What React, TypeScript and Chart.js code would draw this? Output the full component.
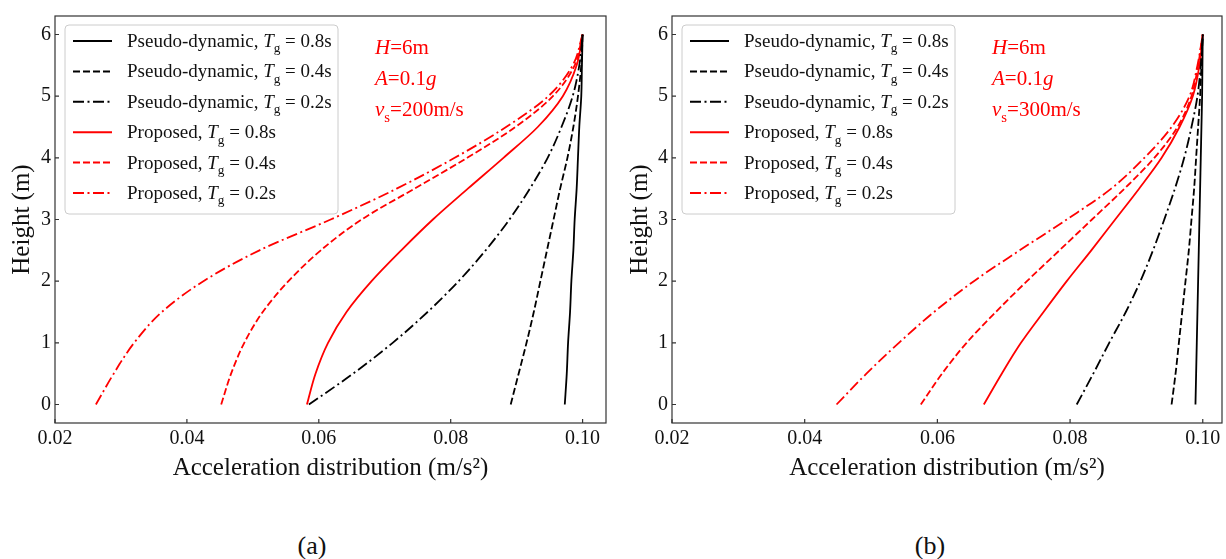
import React, { useEffect, useRef } from "react";
import { Chart, registerables } from "chart.js";

Chart.register(...registerables);

// ---------- data ----------
const heights = [0, 0.5, 1, 1.5, 2, 2.5, 3, 3.5, 4, 4.5, 5, 5.5, 6];
const xTicks = [0.02, 0.04, 0.06, 0.08, 0.1];
const yTicks = [0, 1, 2, 3, 4, 5, 6];

// panel (a): vs = 200 m/s
const aPseudo08 = [0.0973, 0.0976, 0.0978, 0.0981, 0.0983, 0.0986, 0.0988, 0.0991, 0.0993, 0.0995, 0.0998, 0.0999, 0.1];
const aPseudo04 = [0.0891, 0.0903, 0.0915, 0.0926, 0.0936, 0.0946, 0.0956, 0.0966, 0.0977, 0.0986, 0.0993, 0.0998, 0.1];
const aPseudo02 = [0.0585, 0.0652, 0.0712, 0.0765, 0.0812, 0.0853, 0.0889, 0.092, 0.0947, 0.0968, 0.0985, 0.0995, 0.1];
const aProp08 = [0.0582, 0.0595, 0.0614, 0.0642, 0.068, 0.0725, 0.0773, 0.0826, 0.088, 0.0932, 0.097, 0.0991, 0.1];
const aProp04 = [0.0452, 0.0467, 0.0487, 0.0515, 0.0554, 0.0603, 0.0665, 0.0745, 0.0825, 0.0898, 0.0955, 0.0988, 0.1];
const aProp02 = [0.0262, 0.0289, 0.032, 0.0362, 0.0425, 0.051, 0.0618, 0.0718, 0.0806, 0.0884, 0.0948, 0.0985, 0.1];

// panel (b): vs = 300 m/s
const bPseudo08 = [0.0989, 0.099, 0.0991, 0.0992, 0.0993, 0.0994, 0.0995, 0.0996, 0.0997, 0.0998, 0.0999, 0.09995, 0.1];
const bPseudo04 = [0.0953, 0.0959, 0.0964, 0.0969, 0.0974, 0.0979, 0.0983, 0.0987, 0.099, 0.0993, 0.0996, 0.0998, 0.1];
const bPseudo02 = [0.081, 0.0835, 0.0859, 0.0884, 0.0906, 0.0925, 0.0942, 0.0958, 0.0972, 0.0983, 0.0992, 0.0997, 0.1];
const bProp08 = [0.067, 0.0697, 0.0726, 0.076, 0.0795, 0.0832, 0.0868, 0.0904, 0.0938, 0.0965, 0.0985, 0.0995, 0.1];
const bProp04 = [0.0575, 0.0607, 0.0644, 0.0688, 0.0735, 0.0784, 0.0833, 0.0882, 0.0927, 0.0962, 0.0983, 0.0993, 0.1];
const bProp02 = [0.0448, 0.0493, 0.0542, 0.0595, 0.0655, 0.0724, 0.0795, 0.0862, 0.0912, 0.0953, 0.098, 0.0992, 0.1];

const methodNames = ["Pseudo-dynamic", "Pseudo-dynamic", "Pseudo-dynamic", "Proposed", "Proposed", "Proposed"];
const tgValues = ["0.8s", "0.4s", "0.2s", "0.8s", "0.4s", "0.2s"];
const seriesColors = ["#000000", "#000000", "#000000", "#ff0000", "#ff0000", "#ff0000"];
const seriesDashes: number[][] = [[], [7, 3], [11, 3.5, 2, 3.5], [], [7, 3], [11, 3.5, 2, 3.5]];

const xTitle = "Acceleration distribution (m/s\u00B2)";
const yTitle = "Height (m)";
const panelLetters = ["(a)", "(b)"];
const shearVelocities = ["200m/s", "300m/s"];

const FONT = '"Liberation Serif", "Times New Roman", serif';
const FRAME = "#333333";

type Run = { t: string; i?: boolean; sub?: boolean };

function drawRuns(ctx: CanvasRenderingContext2D, x: number, y: number, runs: Run[], size: number, color: string) {
  ctx.fillStyle = color;
  ctx.textBaseline = "alphabetic";
  ctx.textAlign = "left";
  let cx = x;
  for (const r of runs) {
    const s = r.sub ? size * 0.7 : size;
    ctx.font = `${r.i ? "italic " : ""}${s}px ${FONT}`;
    ctx.fillText(r.t, cx, y + (r.sub ? size * 0.28 : 0));
    cx += ctx.measureText(r.t).width;
  }
}

type PanelProps = {
  left: number;
  width: number;
  height: number;
  yAxisWidth: number;
  padRight: number;
  yTitlePad: number;
  xMax: number;
  series: number[][];
  vs: string;
};

function Panel(p: PanelProps) {
  const ref = useRef<HTMLCanvasElement | null>(null);
  useEffect(() => {
    const canvas = ref.current;
    if (!canvas) return;
    const datasets = p.series.map((vals, k) => ({
      label: `${methodNames[k]}, Tg = ${tgValues[k]}`,
      data: vals.map((v, j) => ({ x: v, y: heights[j] })),
      borderColor: seriesColors[k],
      borderWidth: 1.8,
      borderDash: seriesDashes[k],
      pointRadius: 0,
      fill: false,
      cubicInterpolationMode: "monotone" as const,
    }));

    const decor = {
      id: "decor",
      afterDatasetsDraw(chart: any) {
        const { ctx, chartArea: ca, scales } = chart;
        const xs = scales.x;
        const ys = scales.y;
        ctx.save();
        // inward ticks + frame
        ctx.strokeStyle = FRAME;
        ctx.lineWidth = 1.2;
        ctx.setLineDash([]);
        ctx.beginPath();
        xs.ticks.forEach((t: any) => {
          const px = xs.getPixelForValue(t.value);
          ctx.moveTo(px, ca.bottom);
          ctx.lineTo(px, ca.bottom - 4);
        });
        ys.ticks.forEach((t: any) => {
          const py = ys.getPixelForValue(t.value);
          ctx.moveTo(ca.left, py);
          ctx.lineTo(ca.left + 4, py);
        });
        ctx.stroke();
        ctx.strokeRect(ca.left, ca.top, ca.width, ca.height);

        // legend
        const bx = ca.left + 10;
        const by = ca.top + 9;
        const bw = 273;
        const bh = 189;
        ctx.beginPath();
        (ctx as any).roundRect(bx, by, bw, bh, 4);
        ctx.fillStyle = "rgba(255,255,255,0.85)";
        ctx.fill();
        ctx.strokeStyle = "#cccccc";
        ctx.lineWidth = 1;
        ctx.stroke();
        for (let k = 0; k < methodNames.length; k++) {
          const ry = by + 16 + k * 30.4;
          ctx.beginPath();
          ctx.strokeStyle = seriesColors[k];
          ctx.lineWidth = 2;
          ctx.setLineDash(seriesDashes[k]);
          ctx.moveTo(bx + 8, ry);
          ctx.lineTo(bx + 47, ry);
          ctx.stroke();
          ctx.setLineDash([]);
          drawRuns(
            ctx,
            bx + 62,
            ry + 6,
            [
              { t: `${methodNames[k]}, ` },
              { t: "T", i: true },
              { t: "g", sub: true },
              { t: ` = ${tgValues[k]}` },
            ],
            19,
            "#111111"
          );
        }

        // parameter annotations
        const ax = ca.left + 320;
        const red = "#ff0000";
        drawRuns(ctx, ax, ca.top + 38, [{ t: "H", i: true }, { t: "=6m" }], 21, red);
        drawRuns(ctx, ax, ca.top + 69, [{ t: "A", i: true }, { t: "=0.1" }, { t: "g", i: true }], 21, red);
        drawRuns(ctx, ax, ca.top + 100, [{ t: "v", i: true }, { t: "s", sub: true }, { t: `=${p.vs}` }], 21, red);
        ctx.restore();
      },
    };

    const chart = new Chart(canvas, {
      type: "line",
      data: { datasets },
      plugins: [decor],
      options: {
        responsive: false,
        animation: false,
        indexAxis: "y",
        layout: { padding: { left: 0, top: 10, right: p.padRight, bottom: 0 } },
        plugins: { legend: { display: false }, tooltip: { enabled: false } },
        scales: {
          x: {
            type: "linear",
            min: 0.02,
            max: p.xMax,
            afterBuildTicks: (axis: any) => {
              axis.ticks = xTicks.map((v) => ({ value: v }));
            },
            afterFit: (s: any) => {
              s.height = p.height - 423;
            },
            grid: { display: false, drawTicks: false },
            border: { display: false },
            ticks: {
              padding: 4,
              color: "#111111",
              font: { family: FONT, size: 20 },
              callback: (v: any) => Number(v).toFixed(2),
            },
            title: {
              display: true,
              text: xTitle,
              color: "#111111",
              font: { family: FONT, size: 25 },
              padding: { top: 0, bottom: 17 },
            },
          },
          y: {
            type: "linear",
            min: -0.3,
            max: 6.3,
            afterBuildTicks: (axis: any) => {
              axis.ticks = yTicks.map((v) => ({ value: v }));
            },
            afterFit: (s: any) => {
              s.width = p.yAxisWidth;
            },
            grid: { display: false, drawTicks: false },
            border: { display: false },
            ticks: {
              padding: 4,
              color: "#111111",
              font: { family: FONT, size: 20 },
              callback: (v: any) => String(v),
            },
            title: {
              display: true,
              text: yTitle,
              color: "#111111",
              font: { family: FONT, size: 25 },
              padding: { top: p.yTitlePad, bottom: 0 },
            },
          },
        },
      } as any,
    });
    return () => chart.destroy();
  }, []);
  return (
    <canvas
      ref={ref}
      width={p.width}
      height={p.height}
      style={{ position: "absolute", left: p.left, top: 0, width: p.width, height: p.height }}
    />
  );
}

export default function App() {
  return (
    <div style={{ position: "absolute", left: 0, top: 0, width: 1226, height: 559, background: "#ffffff", overflow: "hidden" }}>
      <Panel
        left={0}
        width={613}
        height={500}
        yAxisWidth={55}
        padRight={7}
        yTitlePad={7}
        xMax={0.10355}
        series={[aPseudo08, aPseudo04, aPseudo02, aProp08, aProp04, aProp02]}
        vs={shearVelocities[0]}
      />
      <Panel
        left={613}
        width={613}
        height={500}
        yAxisWidth={59}
        padRight={4}
        yTitlePad={12}
        xMax={0.1029}
        series={[bPseudo08, bPseudo04, bPseudo02, bProp08, bProp04, bProp02]}
        vs={shearVelocities[1]}
      />
      {panelLetters.map((t, i) => (
        <div
          key={t}
          style={{
            position: "absolute",
            left: i === 0 ? 312 : 930,
            top: 546,
            transform: "translate(-50%, -50%)",
            fontFamily: FONT,
            fontSize: 26,
            color: "#111111",
            lineHeight: 1,
          }}
        >
          {t}
        </div>
      ))}
    </div>
  );
}
